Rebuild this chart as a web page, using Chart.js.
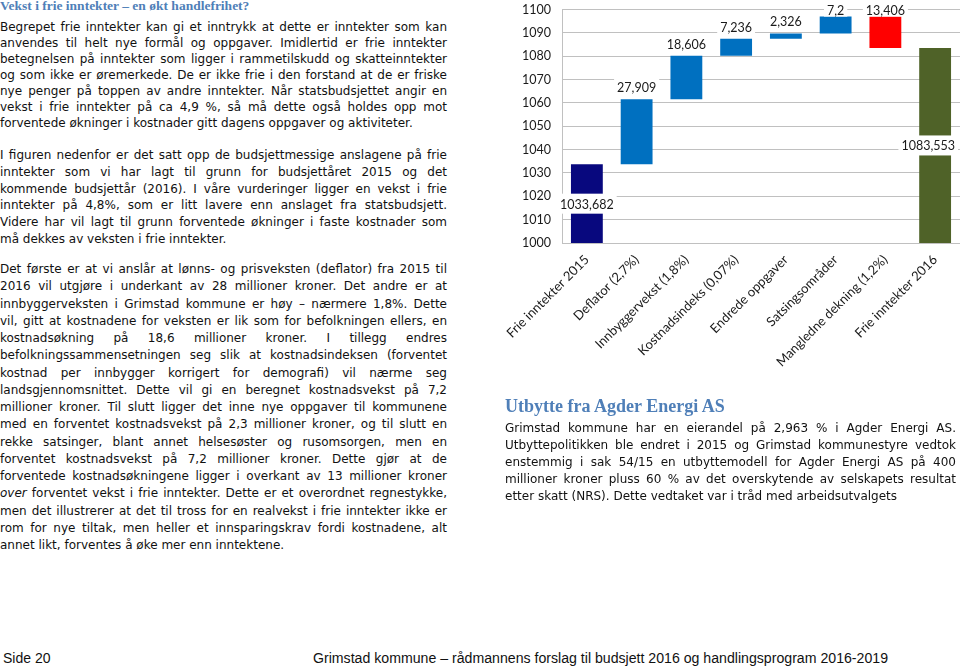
<!DOCTYPE html>
<html>
<head>
<meta charset="utf-8">
<script src="https://cdn.jsdelivr.net/npm/chart.js@4"></script>
<style>
  html, body { margin: 0; padding: 0; background: #fff; }
  body { width: 960px; height: 666px; position: relative; overflow: hidden; font-family: "DejaVu Sans", sans-serif; font-size: 12px; color: #111; }
  .blk { position: absolute; }
  .ln { text-align: justify; text-align-last: justify; white-space: nowrap; }
  .ln.end { text-align-last: left; }
  .h1 { position: absolute; font-family: "Liberation Serif", serif; font-weight: bold; color: #4f7fb8; white-space: nowrap; }
  #chartBox { position: absolute; left: 500px; top: -9px; width: 460px; height: 409px; overflow: hidden; }
  .foot { position: absolute; font-family: "Liberation Sans Narrow", "Liberation Sans", sans-serif; font-size: 14px; color: #111; white-space: nowrap; transform-origin: 0 50%; }
</style>
</head>
<body>
<div class="h1" style="left:0; top:-2px; font-size:13.5px;">Vekst i frie inntekter – en økt handlefrihet?</div>

<div class="blk" id="p1" style="left:0; top:19px; width:447px; line-height:16px;">
  <div class="ln">Begrepet frie inntekter kan gi et inntrykk at dette er inntekter som kan</div>
  <div class="ln">anvendes til helt nye formål og oppgaver. Imidlertid er frie inntekter</div>
  <div class="ln">betegnelsen på inntekter som ligger i rammetilskudd og skatteinntekter</div>
  <div class="ln">og som ikke er øremerkede. De er ikke frie i den forstand at de er friske</div>
  <div class="ln">nye penger på toppen av andre inntekter. Når statsbudsjettet angir en</div>
  <div class="ln">vekst i frie inntekter på ca 4,9 %, så må dette også holdes opp mot</div>
  <div class="ln end">forventede økninger i kostnader gitt dagens oppgaver og aktiviteter.</div>
</div>

<div class="blk" id="p2" style="left:0; top:147px; width:447px; line-height:16.8px;">
  <div class="ln">I figuren nedenfor er det satt opp de budsjettmessige anslagene på frie</div>
  <div class="ln">inntekter som vi har lagt til grunn for budsjettåret 2015 og det</div>
  <div class="ln">kommende budsjettår (2016). I våre vurderinger ligger en vekst i frie</div>
  <div class="ln">inntekter på 4,8%, som er litt lavere enn anslaget fra statsbudsjett.</div>
  <div class="ln">Videre har vil lagt til grunn forventede økninger i faste kostnader som</div>
  <div class="ln end">må dekkes av veksten i frie inntekter.</div>
</div>

<div class="blk" id="p3" style="left:0; top:261px; width:447px; line-height:17.25px;">
  <div class="ln">Det første er at vi anslår at lønns- og prisveksten (deflator) fra 2015 til</div>
  <div class="ln">2016 vil utgjøre i underkant av 28 millioner kroner. Det andre er at</div>
  <div class="ln">innbyggerveksten i Grimstad kommune er høy – nærmere 1,8%. Dette</div>
  <div class="ln">vil, gitt at kostnadene for veksten er lik som for befolkningen ellers, en</div>
  <div class="ln">kostnadsøkning på 18,6 millioner kroner. I tillegg endres</div>
  <div class="ln">befolkningssammensetningen seg slik at kostnadsindeksen (forventet</div>
  <div class="ln">kostnad per innbygger korrigert for demografi) vil nærme seg</div>
  <div class="ln">landsgjennomsnittet. Dette vil gi en beregnet kostnadsvekst på 7,2</div>
  <div class="ln">millioner kroner. Til slutt ligger det inne nye oppgaver til kommunene</div>
  <div class="ln">med en forventet kostnadsvekst på 2,3 millioner kroner, og til slutt en</div>
  <div class="ln">rekke satsinger, blant annet helsesøster og rusomsorgen, men en</div>
  <div class="ln">forventet kostnadsvekst på 7,2 millioner kroner. Dette gjør at de</div>
  <div class="ln">forventede kostnadsøkningene ligger i overkant av 13 millioner kroner</div>
  <div class="ln"><i>over</i> forventet vekst i frie inntekter. Dette er et overordnet regnestykke,</div>
  <div class="ln">men det illustrerer at det til tross for en realvekst i frie inntekter ikke er</div>
  <div class="ln">rom for nye tiltak, men heller et innsparingskrav fordi kostnadene, alt</div>
  <div class="ln end">annet likt, forventes å øke mer enn inntektene.</div>
</div>

<div id="chartBox"><canvas id="chart" width="460" height="409"></canvas></div>

<div class="h1" style="left:505px; top:396px; font-size:18px;">Utbytte fra Agder Energi AS</div>
<div class="blk" id="p4" style="left:505px; top:420px; width:451px; line-height:17px;">
  <div class="ln">Grimstad kommune har en eierandel på 2,963 % i Agder Energi AS.</div>
  <div class="ln">Utbyttepolitikken ble endret i 2015 og Grimstad kommunestyre vedtok</div>
  <div class="ln">enstemmig i sak 54/15 en utbyttemodell for Agder Energi AS på 400</div>
  <div class="ln">millioner kroner pluss 60 % av det overskytende av selskapets resultat</div>
  <div class="ln end">etter skatt (NRS). Dette vedtaket var i tråd med arbeidsutvalgets</div>
</div>

<div class="foot" id="f1" style="left:3px; top:650px;">Side 20</div>
<div class="foot" id="f2" style="left:313px; top:650px;">Grimstad kommune – rådmannens forslag til budsjett 2016 og handlingsprogram 2016-2019</div>

<script>
  // data (millioner kroner)
  const categories = ['Frie inntekter 2015', 'Deflator (2,7%)', 'Innbyggervekst (1,8%)', 'Kostnadsindeks (0,07%)',
                      'Endrede oppgaver', 'Satsingsområder', 'Mangledne dekning (1,2%)', 'Frie inntekter 2016'];
  const startValue = 1033.682;
  const changes    = [27.909, 18.606, 7.236, 2.326, 7.2, -13.406];
  const endValue   = 1083.553;
  const valueLabels = ['1033,682', '27,909', '18,606', '7,236', '2,326', '7,2', '13,406', '1083,553'];
  const yMin = 1000, yMax = 1100, yStep = 10;

  const C_START = '#08087e', C_UP = '#0070c0', C_DOWN = '#ff0000', C_END = '#4f6228';

  // floating bars for the waterfall
  const bars = [[yMin, startValue]];
  const colors = [C_START];
  let run = startValue;
  changes.forEach(d => {
    bars.push([run, run + d]);
    colors.push(d >= 0 ? C_UP : C_DOWN);
    run += d;
  });
  bars.push([yMin, endValue]);
  colors.push(C_END);

  const fontFam = 'Lato, "Open Sans", sans-serif';

  const labelPlugin = {
    id: 'wfLabels',
    afterDatasetsDraw(chart) {
      const ctx = chart.ctx;
      const meta = chart.getDatasetMeta(0);
      ctx.save();
      ctx.font = '12.5px ' + fontFam;
      ctx.textAlign = 'center';
      ctx.textBaseline = 'middle';
      meta.data.forEach((el, i) => {
        const top = Math.min(el.y, el.base), bot = Math.max(el.y, el.base);
        const ends = i === 0 || i === meta.data.length - 1;
        const y = ends ? (top + bot) / 2 : Math.max(top - 12, chart.chartArea.top);
        const txt = valueLabels[i];
        const w = ctx.measureText(txt).width + 6;
        const x = Math.min(el.x, chart.width - w / 2 - 2);
        const boxBot = ends ? y + 10 : Math.min(y + 10, top);
        ctx.fillStyle = '#fff';
        ctx.fillRect(x - w / 2, y - 10, w, boxBot - (y - 10));
        ctx.fillStyle = '#1a1a1a';
        ctx.fillText(txt, x, y + 1);
      });
      ctx.restore();
    }
  };

  new Chart(document.getElementById('chart'), {
    type: 'bar',
    data: {
      labels: categories,
      datasets: [{data: bars, backgroundColor: colors, borderWidth: 0, barPercentage: 0.64, categoryPercentage: 1}]
    },
    options: {
      responsive: false,
      animation: false,
      layout: {padding: {top: 1, left: 0, right: 0, bottom: 0}},
      plugins: {legend: {display: false}, tooltip: {enabled: false}},
      scales: {
        x: {
          grid: {display: false},
          border: {display: true, color: '#c0c0c0'},
          ticks: {color: '#1a1a1a', font: {family: fontFam, size: 13}, maxRotation: 45, minRotation: 45, padding: 1, autoSkip: false},
          afterFit: s => { s.height = 157; }
        },
        y: {
          min: yMin, max: yMax,
          grid: {color: '#c0c0c0', drawTicks: false},
          border: {display: true, color: '#c0c0c0'},
          ticks: {stepSize: yStep, color: '#1a1a1a', font: {family: fontFam, size: 12.5}, padding: 11,
                  callback: v => String(v)},
          afterFit: s => { s.width = 62; }
        }
      }
    },
    plugins: [labelPlugin]
  });

  // footer text width to match the page
  const f2 = document.getElementById('f2');
  const w2 = f2.getBoundingClientRect().width;
  f2.style.transform = 'scaleX(' + (575 / w2) + ')';
</script>
</body>
</html>
